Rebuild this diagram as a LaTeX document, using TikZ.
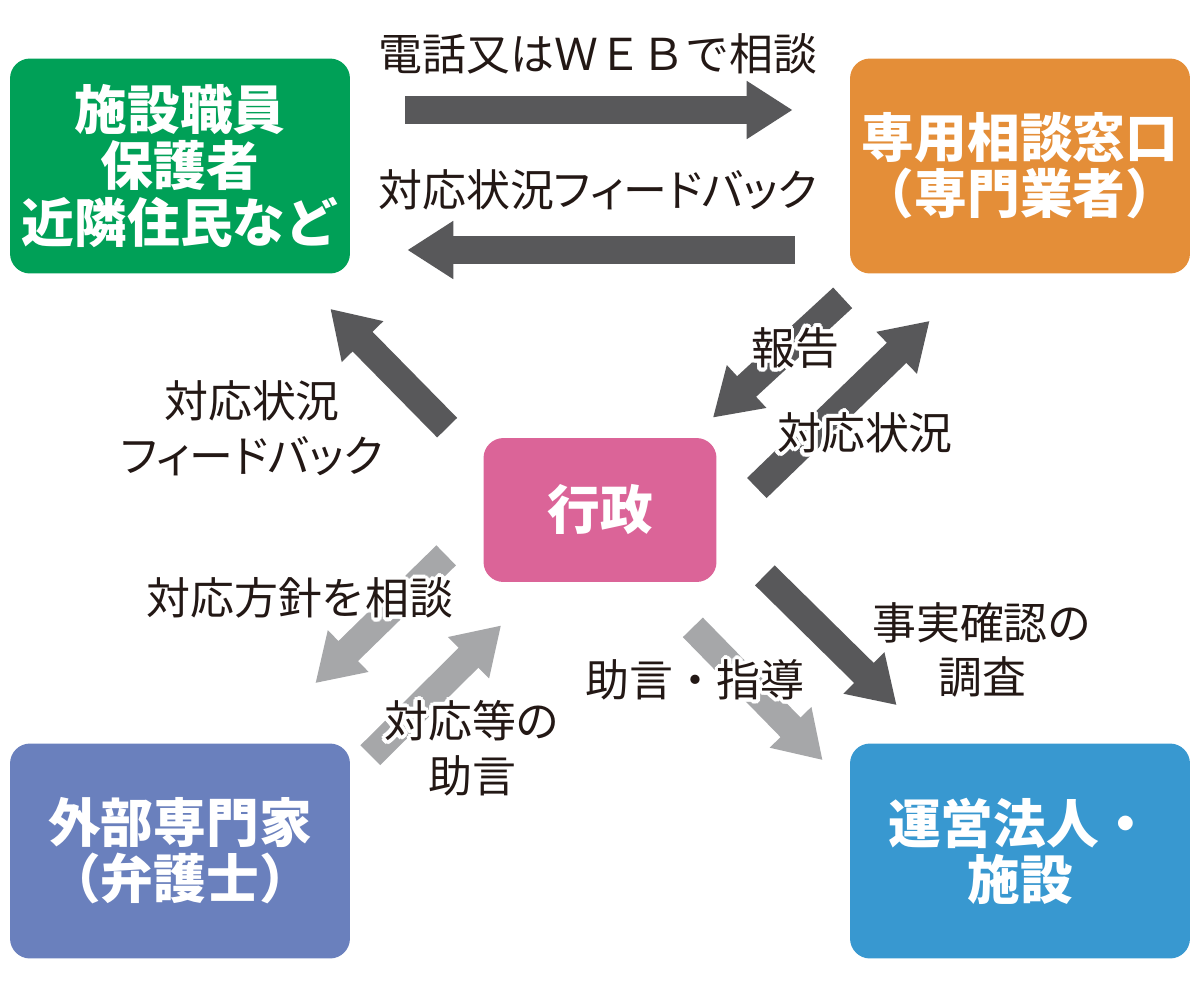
\documentclass[tikz,border=0pt]{standalone}
\usepackage{fontspec}
\setmainfont{Noto Sans CJK JP}
\newfontfamily\propfont{Noto Sans CJK JP}[RawFeature=+palt]
\usepackage{contour}
\contourlength{2.2pt}
\usetikzlibrary{arrows.meta, positioning, calc}

\newcommand{\halo}[1]{\contour{white}{#1}}

\begin{document}
\begin{tikzpicture}[x=0.02cm, y=-0.02cm,
    box/.style={rounded corners=0.4cm, minimum width=6.8cm, minimum height=4.3cm, align=center, text=white, font=\fontsize{30}{32}\selectfont\bfseries},
    bigarrow/.style={line width=0.56cm, -{Triangle[length=0.92cm, width=1.1cm]}},
    lbl/.style={align=center, text=ink, font=\fontsize{25}{31}\selectfont},
    plbl/.style={lbl, font=\propfont\fontsize{25}{31}\selectfont}]
    % Define local colors
    \definecolor{cgreen}{RGB}{0, 160, 87}   \definecolor{corange}{RGB}{228, 142, 56}
    \definecolor{cpink}{RGB}{219, 100, 152} \definecolor{cpurple}{RGB}{106, 128, 189}
    \definecolor{cblue}{RGB}{56, 152, 208}
    \definecolor{cdark}{RGB}{88, 88, 90}    \definecolor{clight}{RGB}{166, 167, 169}
    \definecolor{ink}{RGB}{35, 24, 21}

    \useasboundingbox (0,0) rectangle (1200,988);

    % BOXES
    \node[box, fill=cgreen] (staff) at (180,166) {施設職員\\保護者\\近隣住民など};
    \node[box, fill=corange] (desk) at (1020,166) {専用相談窓口\\（専門業者）};
    \node[box, fill=cpink, minimum width=4.66cm, minimum height=2.88cm] (gov) at (600,510) {行政};
    \node[box, fill=cpurple] (expert) at (180,851) {外部専門家\\（弁護士）};
    \node[box, fill=cblue] (corp) at (1020,851) {運営法人・\\施設};

    % Top pair of arrows
    \draw[bigarrow, cdark] ([shift={(55,-56)}]staff.east) -- ([shift={(-57,-56)}]desk.west);
    \draw[bigarrow, cdark] ([shift={(-55,84)}]desk.west) -- ([shift={(57,84)}]staff.east);

    % Dark diagonal arrows
    \draw[bigarrow, cdark] ([shift={(-36,-10)}]gov.north west) -- ([shift={(-20,35)}]staff.south east);
    \draw[bigarrow, cdark] ([shift={(-7,24)}]desk.south west) -- ([shift={(-4,-20)}]gov.north east);
    \draw[bigarrow, cdark] ([shift={(40,-22)}]gov.east) -- ([shift={(80,47)}]desk.south west);
    \draw[bigarrow, cdark] ([shift={(48,-7)}]gov.south east) -- ([shift={(47,-38)}]corp.north west);

    % Light diagonal arrows
    \draw[bigarrow, clight] ([shift={(-24,45)}]gov.south east) -- ([shift={(-27,17)}]corp.north west);
    \draw[bigarrow, clight] ([shift={(-37,-27)}]gov.south west) -- ([shift={(-35,-60)}]expert.north east);
    \draw[bigarrow, clight] ([shift={(20,12)}]expert.north east) -- ([shift={(18,43)}]gov.south west);

    % Labels
    \node[lbl] (web) at (598,54) {電話又はＷＥＢで相談};
    \node[plbl] (fbtop) at (598,190) {対応状況フィードバック};
    \node[plbl] (fbleft) at (252,428) {対応状況\\フィードバック};
    \node[lbl] (report) at (795,350) {\halo{報告}};
    \node[lbl] (status) at (865,435) {\halo{対応状況}};
    \node[lbl] (check) at (982,650) {事実確認の\\調査};
    \node[lbl] (guide) at (695,682) {\halo{助言・指導}};
    \node[lbl] (policy) at (300,600) {\halo{対応方針を相談}};
    \node[lbl] (advice) at (472,750) {\halo{対応等の}\\\halo{助言}};
\end{tikzpicture}
\end{document}
